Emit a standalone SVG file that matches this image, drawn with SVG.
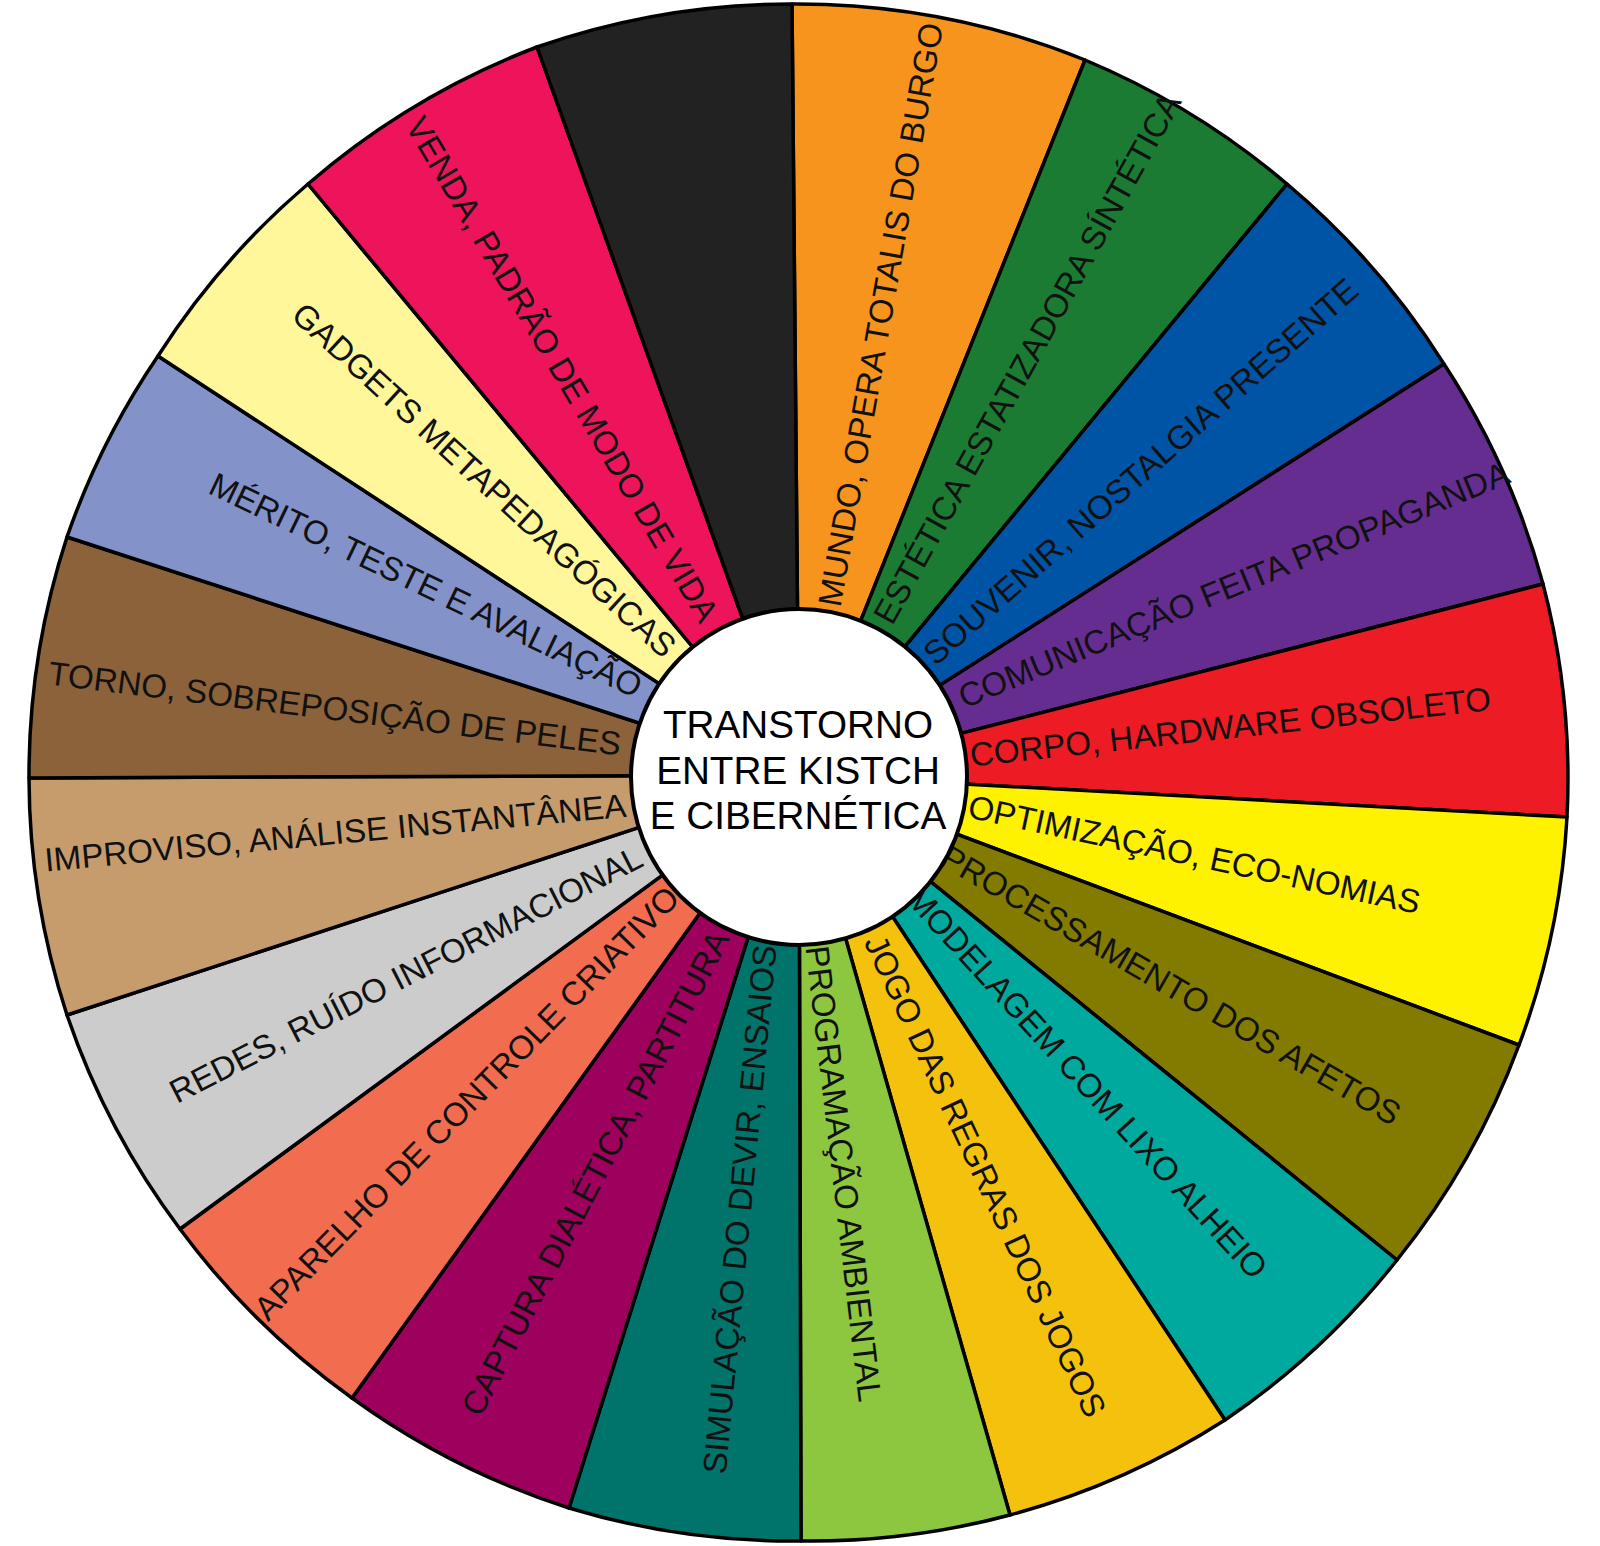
<svg xmlns="http://www.w3.org/2000/svg" width="1600" height="1546" viewBox="0 0 1600 1546">
<style>
.w{stroke:#000;stroke-width:3.5;stroke-linejoin:round}
.t{font-family:"Liberation Sans",Arial,sans-serif;font-size:33.2px;fill:#111}
.s{text-anchor:start}
.e{text-anchor:end}
.c{font-family:"Liberation Sans",Arial,sans-serif;font-size:38.7px;fill:#000;text-anchor:middle}
</style>
<rect width="1600" height="1546" fill="#fff"/>
<g id="orange"><path class="w" fill="#f7941d" d="M799 775 L792 4 A769 769 0 0 1 1085 60 Z"/><text class="t s" dy="0.35em" transform="translate(829,606) rotate(-80)">MUNDO, OPERA TOTALIS DO BURGO</text></g>
<g id="green"><path class="w" fill="#1b7b32" d="M799 775 L1085 60 A769 769 0 0 1 1287 184 Z"/><text class="t s" dy="0.35em" transform="translate(882,621) rotate(-61.1)">ESTÉTICA ESTATIZADORA SÍNTÉTICA</text></g>
<g id="blue"><path class="w" fill="#0054a6" d="M799 775 L1287 184 A769 769 0 0 1 1444 364 Z"/><text class="t s" dy="0.35em" transform="translate(928,658) rotate(-41.3)">SOUVENIR, NOSTALGIA PRESENTE</text></g>
<g id="purple"><path class="w" fill="#662d91" d="M799 775 L1444 364 A769 769 0 0 1 1543 584 Z"/><text class="t s" dy="0.35em" transform="translate(960,698) rotate(-22.5)">COMUNICAÇÃO FEITA PROPAGANDA</text></g>
<g id="red"><path class="w" fill="#ed1c24" d="M799 775 L1543 584 A769 769 0 0 1 1567 817 Z"/><text class="t s" dy="0.35em" transform="translate(970,755) rotate(-6.2)">CORPO, HARDWARE OBSOLETO</text></g>
<g id="yellow"><path class="w" fill="#fff200" d="M799 775 L1567 817 A769 769 0 0 1 1519 1045 Z"/><text class="t s" dy="0.35em" transform="translate(969,806) rotate(12.1)">OPTIMIZAÇÃO, ECO-NOMIAS</text></g>
<g id="olive"><path class="w" fill="#827b00" d="M799 775 L1519 1045 A769 769 0 0 1 1397 1260 Z"/><text class="t s" dy="0.35em" transform="translate(944,854) rotate(30)">PROCESSAMENTO DOS AFETOS</text></g>
<g id="teal"><path class="w" fill="#00a99d" d="M799 775 L1397 1260 A769 769 0 0 1 1225 1420 Z"/><text class="t s" dy="0.35em" transform="translate(913,892) rotate(47.6)">MODELAGEM COM LIXO ALHEIO</text></g>
<g id="gold"><path class="w" fill="#f4c20d" d="M799 775 L1225 1420 A769 769 0 0 1 1010 1515 Z"/><text class="t s" dy="0.35em" transform="translate(874,937) rotate(65)">JOGO DAS REGRAS DOS JOGOS</text></g>
<g id="lightgreen"><path class="w" fill="#8dc63f" d="M799 775 L1010 1515 A769 769 0 0 1 801 1541 Z"/><text class="t s" dy="0.35em" transform="translate(817,946) rotate(83.3)">PROGRAMAÇÃO AMBIENTAL</text></g>
<g id="darkteal"><path class="w" fill="#00746b" d="M799 775 L801 1541 A769 769 0 0 1 569 1508 Z"/><text class="t e" dy="0.35em" transform="translate(765,945) rotate(-84.5)">SIMULAÇÃO DO DEVIR, ENSAIOS</text></g>
<g id="maroon"><path class="w" fill="#9e005d" d="M799 775 L569 1508 A769 769 0 0 1 352 1398 Z"/><text class="t e" dy="0.35em" transform="translate(720,933) rotate(-62.5)">CAPTURA DIALÉTICA, PARTITURA</text></g>
<g id="coral"><path class="w" fill="#f26d50" d="M799 775 L352 1398 A769 769 0 0 1 180 1229 Z"/><text class="t e" dy="0.35em" transform="translate(673,892) rotate(-45.6)">APARELHO DE CONTROLE CRIATIVO</text></g>
<g id="gray"><path class="w" fill="#cccccc" d="M799 775 L180 1229 A769 769 0 0 1 67 1015 Z"/><text class="t e" dy="0.35em" transform="translate(640,855) rotate(-27)">REDES, RUÍDO INFORMACIONAL</text></g>
<g id="tan"><path class="w" fill="#c69c6d" d="M799 775 L67 1015 A769 769 0 0 1 29 778 Z"/><text class="t e" dy="0.35em" transform="translate(626,805) rotate(-5.4)">IMPROVISO, ANÁLISE INSTANTÂNEA</text></g>
<g id="brown"><path class="w" fill="#8b6239" d="M799 775 L29 778 A769 769 0 0 1 67 537 Z"/><text class="t e" dy="0.35em" transform="translate(621,744) rotate(7.1)">TORNO, SOBREPOSIÇÃO DE PELES</text></g>
<g id="periwinkle"><path class="w" fill="#8393ca" d="M799 775 L67 537 A769 769 0 0 1 158 356 Z"/><text class="t e" dy="0.35em" transform="translate(640,688) rotate(25.7)">MÉRITO, TESTE E AVALIAÇÃO</text></g>
<g id="lightyellow"><path class="w" fill="#fff799" d="M799 775 L158 356 A769 769 0 0 1 308 184 Z"/><text class="t e" dy="0.35em" transform="translate(671,651) rotate(42.5)">GADGETS METAPEDAGÓGICAS</text></g>
<g id="pink"><path class="w" fill="#ed145b" d="M799 775 L308 184 A769 769 0 0 1 537 47 Z"/><text class="t e" dy="0.35em" transform="translate(710,619) rotate(59.4)">VENDA, PADRÃO DE MODO DE VIDA</text></g>
<g id="black"><path class="w" fill="#222222" d="M799 775 L537 47 A769 769 0 0 1 792 4 Z"/></g>
<g id="center"><circle cx="799" cy="777" r="168" fill="#fff" stroke="#000" stroke-width="4"/>
<text class="c" x="798" y="738">TRANSTORNO</text>
<text class="c" x="798" y="783.5">ENTRE KISTCH</text>
<text class="c" x="798" y="828.5">E CIBERNÉTICA</text></g>
</svg>
